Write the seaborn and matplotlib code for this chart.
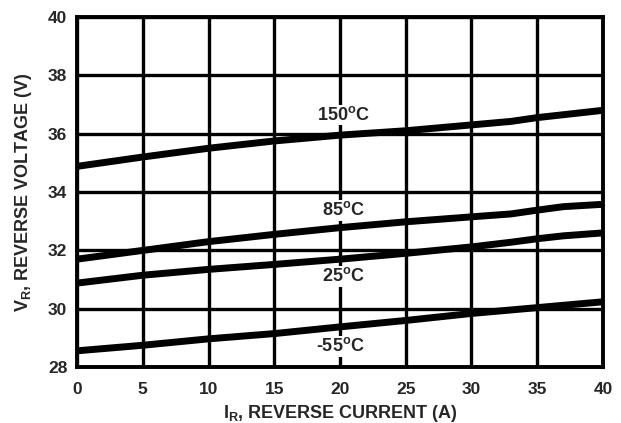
import numpy as np
import pandas as pd
import seaborn as sns
import matplotlib.pyplot as plt

# reverse current (A) and reverse voltage (V)
current = [0, 5, 10, 15, 20, 25, 30, 33, 35, 37, 40]
v_150 = [34.88, 35.2, 35.5, 35.75, 35.95, 36.1, 36.3, 36.42, 36.55, 36.65, 36.8]
v_85 = [31.7, 32.0, 32.3, 32.55, 32.78, 32.98, 33.15, 33.25, 33.38, 33.5, 33.58]
v_25 = [30.88, 31.15, 31.35, 31.52, 31.7, 31.9, 32.12, 32.28, 32.4, 32.5, 32.6]
v_m55 = [28.56, 28.75, 28.97, 29.15, 29.38, 29.6, 29.84, 29.96, 30.04, 30.12, 30.24]

labels = ["150$^{o}$C", "85$^{o}$C", "25$^{o}$C", "-55$^{o}$C"]
label_x = [20.3, 20.3, 20.3, 20.0]
label_y = [36.64, 33.38, 31.12, 28.72]

sns.set_style("white")
plt.rcParams['font.family'] = ['Liberation Sans', 'DejaVu Sans']
plt.rcParams['font.weight'] = 'bold'
plt.rcParams['mathtext.fontset'] = 'custom'
plt.rcParams['mathtext.rm'] = 'Liberation Sans:bold'
plt.rcParams['mathtext.it'] = 'Liberation Sans:bold'
plt.rcParams['mathtext.bf'] = 'Liberation Sans:bold'
plt.rcParams['mathtext.default'] = 'rm'

dpi = 100
fig, ax = plt.subplots(figsize=(621/dpi, 423/dpi), dpi=dpi)
fig.subplots_adjust(left=0.124, right=0.971, top=0.960, bottom=0.132)

for vals in (v_150, v_85, v_25, v_m55):
    sns.lineplot(x=current, y=vals, ax=ax, color="black", linewidth=5.0,
                 solid_capstyle="butt", zorder=4)

for txt, lx, ly in zip(labels, label_x, label_y):
    ax.text(lx, ly, txt, ha="center", va="center", fontsize=13,
            fontweight="bold", zorder=3,
            bbox=dict(facecolor="white", edgecolor="none", pad=1.0))

ax.set_xlim(0, 40)
ax.set_ylim(28, 40)
ax.set_xticks(np.arange(0, 41, 5))
ax.set_yticks(np.arange(28, 41, 2))
ax.grid(True, color="black", linewidth=2.4, zorder=1)
ax.set_axisbelow(True)
for s in ax.spines.values():
    s.set_color("black")
    s.set_linewidth(2.8)
    s.set_zorder(5)
ax.tick_params(length=0, labelsize=12.5)
ax.tick_params(axis="x", pad=11)
ax.tick_params(axis="y", pad=7)
for lab in ax.get_xticklabels() + ax.get_yticklabels():
    lab.set_fontweight("bold")

ax.set_xlabel("I$_R$, REVERSE CURRENT (A)", fontsize=13, fontweight="bold", labelpad=4)
ax.set_ylabel("V$_R$, REVERSE VOLTAGE (V)", fontsize=13, fontweight="bold", labelpad=10)

fig.savefig("out.png", dpi=dpi)
